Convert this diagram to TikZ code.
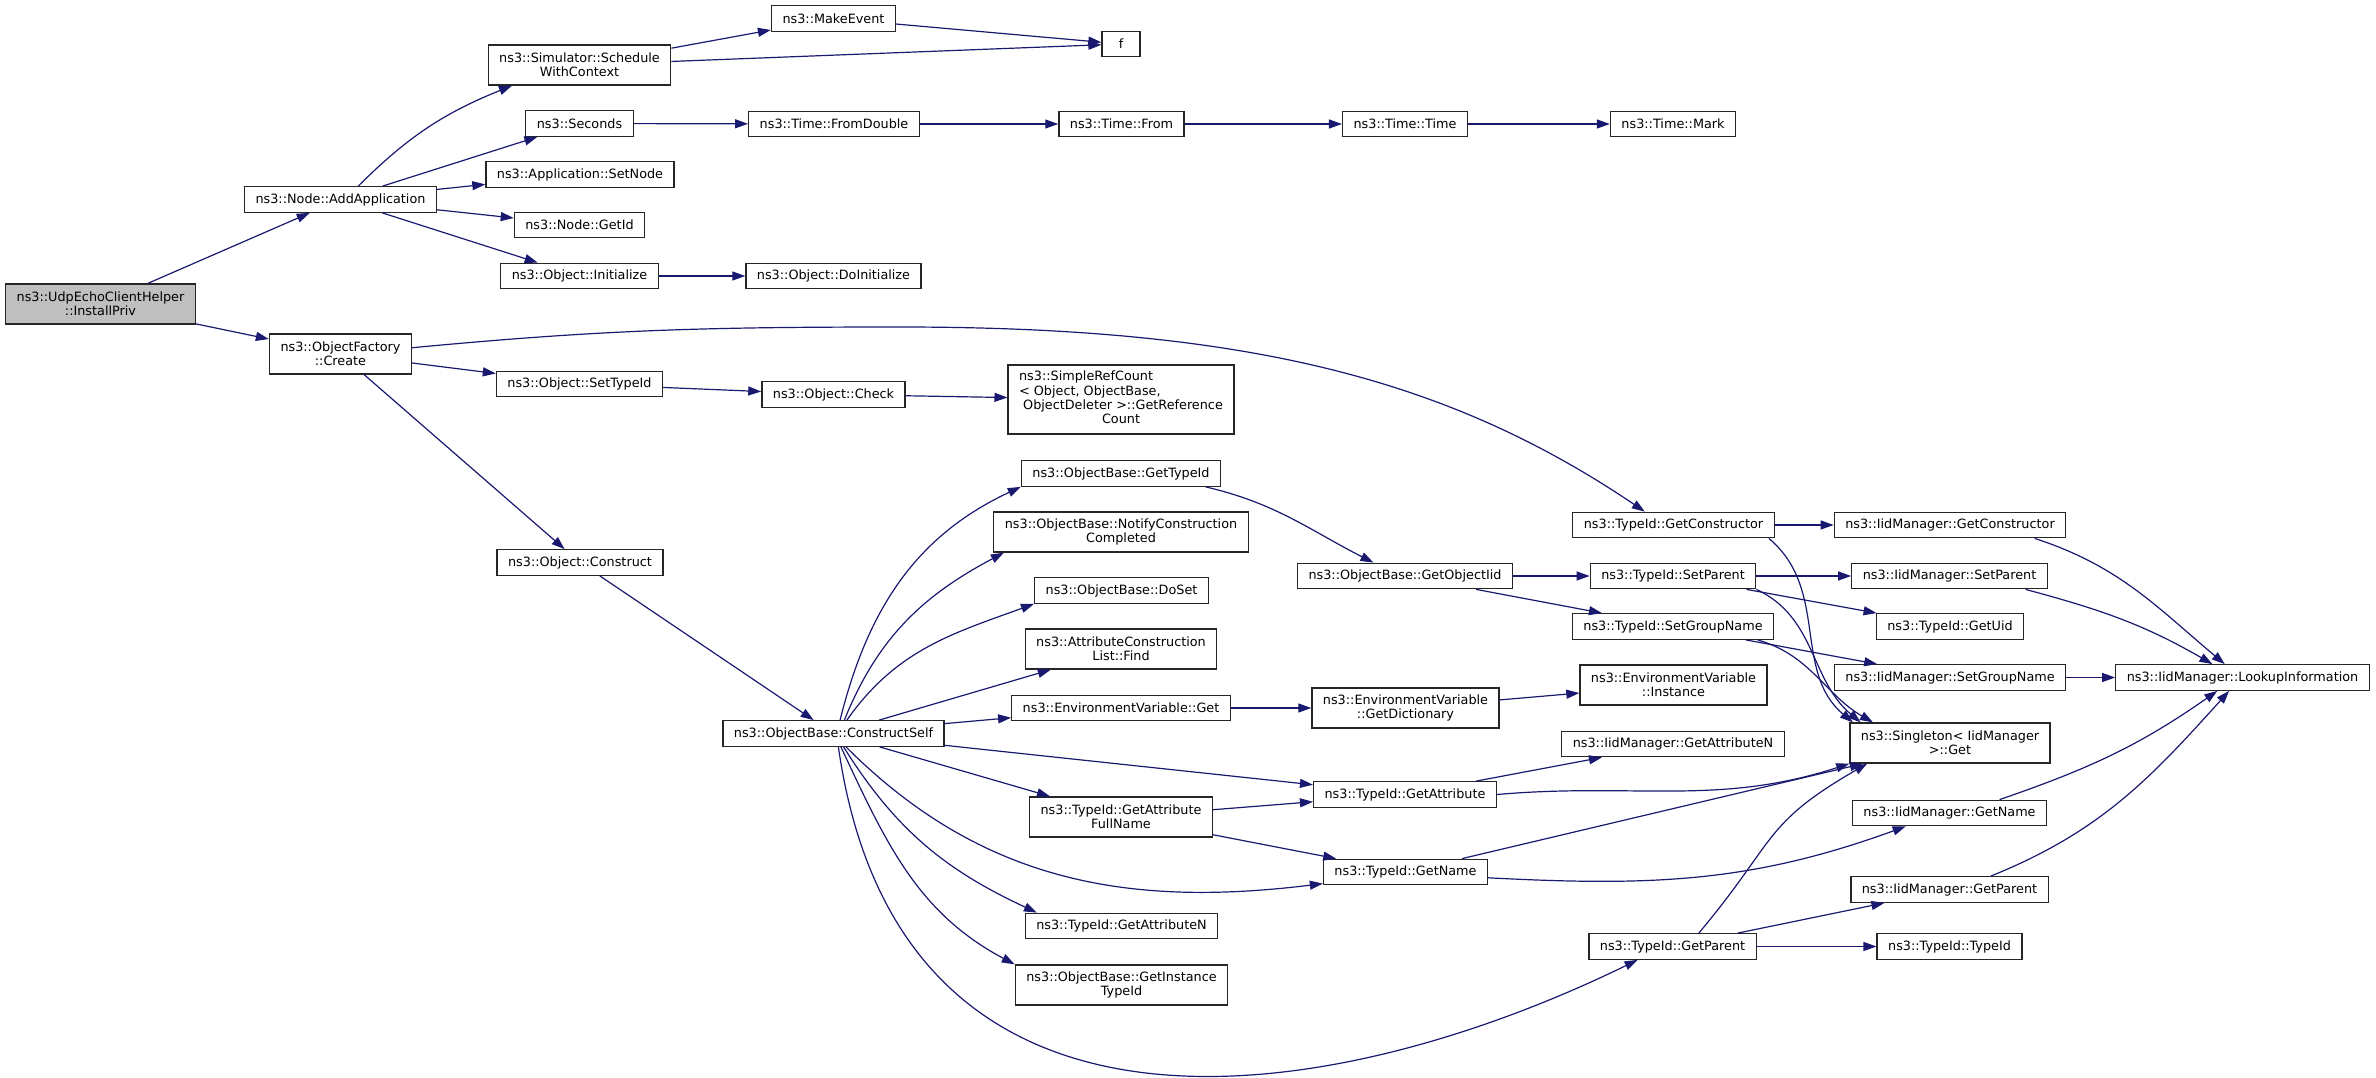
\documentclass[tikz,border=0pt]{standalone}
\usepackage{fontspec}
\setmainfont{DejaVu Sans}
\usetikzlibrary{arrows.meta}
\definecolor{edgeblue}{HTML}{191970}
\definecolor{rootgray}{HTML}{BFBFBF}
\begin{document}
\begin{tikzpicture}[x=1pt,y=1pt,
  fn/.style={draw=black!85, line width=1.3pt, fill=white, align=center,
    inner xsep=11pt, inner ysep=2pt, minimum height=25.5pt,
    font=\fontsize{12.8}{14.3}\selectfont},
  two/.style={minimum height=40pt},
  root/.style={fn, two, fill=rootgray},
  call/.style={draw=edgeblue, line width=1.2pt, -{Triangle[length=13pt,width=9pt]}}]
\useasboundingbox (0,0) rectangle (2376,-1078);

\node[root] (install) at (100.5,-304) {ns3::UdpEchoClientHelper\\::InstallPriv};

\node[fn] (addapp) at (340.5,-199.5) {ns3::Node::AddApplication};
\node[fn,two] (create) at (340.5,-354) {ns3::ObjectFactory\\::Create};

\node[fn,two] (schedule) at (579.5,-65) {ns3::Simulator::Schedule\\WithContext};
\node[fn] (seconds) at (579.5,-123.5) {ns3::Seconds};
\node[fn] (setnode) at (580,-174.5) {ns3::Application::SetNode};
\node[fn] (getid) at (579.5,-225) {ns3::Node::GetId};
\node[fn] (init) at (579.5,-276) {ns3::Object::Initialize};
\node[fn] (settypeid) at (579.5,-384) {ns3::Object::SetTypeId};
\node[fn] (construct) at (580,-562.5) {ns3::Object::Construct};

\node[fn] (makeevent) at (833.5,-18.5) {ns3::MakeEvent};
\node[fn] (fromdouble) at (834,-124) {ns3::Time::FromDouble};
\node[fn] (doinit) at (833.5,-276) {ns3::Object::DoInitialize};
\node[fn] (check) at (833.5,-394.5) {ns3::Object::Check};
\node[fn] (cself) at (833.5,-733.5) {ns3::ObjectBase::ConstructSelf};

\node[fn,minimum width=38pt] (f) at (1121,-44) {f};
\node[fn] (from) at (1121.5,-124) {ns3::Time::From};
\node[fn,minimum height=69pt] (refcount) at (1121,-399.5)
  {\begin{tabular}{@{}l@{}}ns3::SimpleRefCount\\< Object, ObjectBase,\\\ ObjectDeleter >::GetReference\\\multicolumn{1}{@{}c@{}}{Count}\end{tabular}};
\node[fn] (obtypeid) at (1121,-473.5) {ns3::ObjectBase::GetTypeId};
\node[fn,two] (notify) at (1121,-532) {ns3::ObjectBase::NotifyConstruction\\Completed};
\node[fn] (doset) at (1121.5,-590.5) {ns3::ObjectBase::DoSet};
\node[fn,two] (find) at (1121,-649) {ns3::AttributeConstruction\\List::Find};
\node[fn] (envget) at (1121,-708) {ns3::EnvironmentVariable::Get};
\node[fn,two] (fullname) at (1121,-817) {ns3::TypeId::GetAttribute\\FullName};
\node[fn] (tattrn) at (1121.5,-926) {ns3::TypeId::GetAttributeN};
\node[fn,two] (insttypeid) at (1121.5,-985) {ns3::ObjectBase::GetInstance\\TypeId};

\node[fn] (ttime) at (1405,-124) {ns3::Time::Time};
\node[fn] (objiid) at (1405,-576) {ns3::ObjectBase::GetObjectIid};
\node[fn,two] (envdict) at (1405.5,-708) {ns3::EnvironmentVariable\\::GetDictionary};
\node[fn] (tattr) at (1405,-794.5) {ns3::TypeId::GetAttribute};
\node[fn] (tname) at (1405.5,-872) {ns3::TypeId::GetName};

\node[fn] (mark) at (1673,-124) {ns3::Time::Mark};
\node[fn] (tctor) at (1673.5,-525) {ns3::TypeId::GetConstructor};
\node[fn] (tsetparent) at (1673,-576) {ns3::TypeId::SetParent};
\node[fn] (tsetgroup) at (1673,-626.5) {ns3::TypeId::SetGroupName};
\node[fn,two] (envinst) at (1673.5,-685) {ns3::EnvironmentVariable\\::Instance};
\node[fn] (iattrn) at (1673,-744) {ns3::IidManager::GetAttributeN};
\node[fn] (tparent) at (1672.5,-946.5) {ns3::TypeId::GetParent};

\node[fn] (ictor) at (1950,-525) {ns3::IidManager::GetConstructor};
\node[fn] (isetparent) at (1949.5,-576) {ns3::IidManager::SetParent};
\node[fn] (tuid) at (1950,-626.5) {ns3::TypeId::GetUid};
\node[fn] (isetgroup) at (1950,-677.5) {ns3::IidManager::SetGroupName};
\node[fn,two] (single) at (1950,-743) {ns3::Singleton< IidManager\\>::Get};
\node[fn] (iname) at (1949.5,-813) {ns3::IidManager::GetName};
\node[fn] (iparent) at (1949.5,-889.5) {ns3::IidManager::GetParent};
\node[fn] (typeid) at (1949.5,-946.5) {ns3::TypeId::TypeId};

\node[fn] (lookup) at (2242.5,-677.5) {ns3::IidManager::LookupInformation};

\draw[call] (install) -- (addapp);
\draw[call] (install) -- (create);
\draw[call] (addapp.37) to[out=45,in=-158] (schedule.-163);
\draw[call] (addapp) -- (seconds);
\draw[call] (addapp) -- (setnode);
\draw[call] (addapp) -- (getid);
\draw[call] (addapp) -- (init);
\draw[call] (schedule) -- (makeevent);
\draw[call] (schedule) -- (f);
\draw[call] (makeevent) -- (f);
\draw[call] (seconds) -- (fromdouble);
\draw[call] (fromdouble) -- (from);
\draw[call] (from) -- (ttime);
\draw[call] (ttime) -- (mark);
\draw[call] (init) -- (doinit);
\draw[call] (create.5) .. controls (600,-330) and (700,-327) .. (900,-327)
  .. controls (1250,-327) and (1450,-380) .. (tctor.155);
\draw[call] (create) -- (settypeid);
\draw[call] (create) -- (construct);
\draw[call] (settypeid) -- (check);
\draw[call] (check) -- (refcount);
\draw[call] (construct) -- (cself);

\draw[call] (cself.64) to[out=76,in=-155] (obtypeid.south west);
\draw[call] (cself.51) to[out=68,in=-152] (notify.190);
\draw[call] (cself.45) to[out=55,in=-160] (doset.south west);
\draw[call] (cself) -- (find);
\draw[call] (cself) -- (envget);
\draw[call] (cself) -- (tattr);
\draw[call] (cself) -- (fullname);
\draw[call] (cself.-47) to[out=-45,in=-173] (tname.-172);
\draw[call] (cself.-53) to[out=-58,in=155] (tattrn.171);
\draw[call] (cself.-61) to[out=-65,in=152] (insttypeid.north west);
\draw[call] (cself.-70) .. controls (900,-1180) and (1330,-1110) .. (tparent.-159);

\draw[call] (obtypeid.-9) to[out=-13,in=153] (objiid.157);
\draw[call] (objiid) -- (tsetparent);
\draw[call] (objiid) -- (tsetgroup);
\draw[call] (envget) -- (envdict);
\draw[call] (envdict) -- (envinst);
\draw[call] (tctor) -- (ictor);
\draw[call] (tctor.-8) to[out=-40,in=140] (single.168);
\draw[call] (tsetparent) -- (isetparent);
\draw[call] (tsetparent) -- (tuid);
\draw[call] (tsetparent.south east) to[out=-25,in=140] (single.167);
\draw[call] (tsetgroup) -- (isetgroup);
\draw[call] (tsetgroup.-9) to[out=-16,in=150] (single.165);
\draw[call] (isetgroup) -- (lookup);
\draw[call] (ictor.-9) to[out=-18,in=140] (lookup.143);
\draw[call] (isetparent.-10) to[out=-15,in=150] (lookup.156);
\draw[call] (iname.15) to[out=19,in=-145] (lookup.-152);
\draw[call] (iparent.18) to[out=22,in=-132] (lookup.-135);
\draw[call] (tattr) -- (iattrn);
\draw[call] (tattr.east) to[out=5,in=-162] (single.south west);
\draw[call] (fullname) -- (tattr);
\draw[call] (fullname) -- (tname);
\draw[call] (tname) -- (single);
\draw[call] (tname.-4) to[out=-3,in=-160] (iname.-163);
\draw[call] (tparent.27) to[out=50,in=-150,looseness=1.3] (single.-166);
\draw[call] (tparent) -- (iparent);
\draw[call] (tparent) -- (typeid);
\end{tikzpicture}
\end{document}
